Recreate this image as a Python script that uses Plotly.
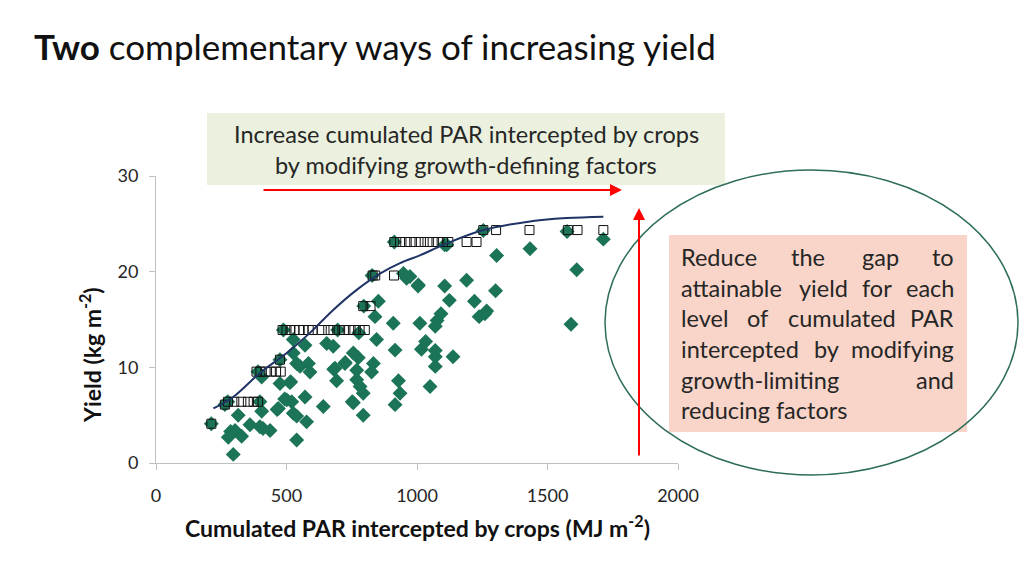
import plotly.graph_objects as go

# ---------------- data ----------------
# observed yields (green diamonds)
obs_x = [212, 296, 277, 303, 328, 315, 360, 398, 437, 405, 398, 469, 475, 513, 501, 520, 526, 539, 571, 577,
         539, 405, 475, 539, 552, 584, 590, 526, 571, 526, 641, 654, 679, 686, 692, 724, 756, 775, 769, 769,
         782, 794, 794, 756, 826, 833, 845, 839, 852, 909, 916, 916, 929, 935, 948, 973, 1005, 1011, 1050, 1017,
         1033, 1070, 1070, 1070, 1070, 1077, 1092, 1106, 1114, 1124, 1138, 1190, 1220, 1238, 1260, 1267, 1305, 1301,
         1433, 1590, 1612, 1714, 1254, 1575, 913, 828, 796, 488, 696, 391, 275, 264, 777, 410, 286, 464, 516, 493,
         725, 681, 752, 960, 1004, 1106]
obs_y = [4.1, 0.9, 2.7, 3.4, 2.8, 5.0, 4.0, 3.8, 3.4, 5.4, 6.4, 5.7, 8.3, 8.4, 6.6, 6.4, 5.2, 4.9, 6.9, 4.3,
         2.4, 9.0, 10.8, 10.4, 10.1, 10.4, 9.5, 11.5, 12.3, 12.9, 5.9, 12.5, 12.2, 9.9, 8.6, 10.4, 11.5, 11.0, 9.7, 8.7,
         8.0, 7.3, 5.0, 6.3, 9.5, 10.4, 12.9, 15.3, 16.9, 14.6, 11.8, 6.1, 8.6, 7.3, 19.8, 19.5, 18.6, 14.6, 8.0, 11.9,
         12.7, 11.1, 11.75, 10.1, 14.3, 14.9, 15.6, 18.5, 22.8, 17.0, 11.1, 19.1, 16.9, 15.3, 15.6, 15.9, 21.7, 18.0,
         22.4, 14.5, 20.2, 23.4, 24.3, 24.2, 23.1, 19.6, 16.4, 13.9, 13.9, 9.55, 6.4, 6.1, 13.6, 3.6, 3.3, 5.6, 8.5, 6.7,
         10.5, 9.8, 6.4, 19.3, 18.5, 22.8]

# attainable yields (open squares)
att_x = [212, 264, 276, 300, 327, 352, 374, 391,
         385, 400, 420, 440, 460, 478, 475,
         485, 500, 515, 530, 548, 565, 585, 600, 635, 660, 680, 700, 720, 740, 760, 780, 800,
         794, 822,
         830, 840, 912,
         913, 935, 955, 975, 995, 1015, 1040, 1060, 1080, 1100, 1120, 1190, 1228,
         1254, 1303, 1431, 1578, 1615, 1714]
att_y = [4.1, 6.1, 6.4, 6.4, 6.4, 6.4, 6.4, 6.4,
         9.55, 9.55, 9.55, 9.55, 9.55, 9.55, 10.8,
         13.9, 13.9, 13.9, 13.9, 13.9, 13.9, 13.9, 13.9, 13.9, 13.9, 13.9, 13.9, 13.9, 13.9, 13.9, 13.9, 13.9,
         16.4, 16.4,
         19.6, 19.6, 19.6,
         23.1, 23.1, 23.1, 23.1, 23.1, 23.1, 23.1, 23.1, 23.1, 23.1, 23.1, 23.1, 23.1,
         24.35, 24.35, 24.35, 24.35, 24.35, 24.35]

# fitted boundary curve
fit_x = [220, 296, 398, 501, 590, 679, 769, 858, 935, 1011, 1101, 1254, 1420, 1573, 1714]
fit_y = [5.7, 6.9, 9.4, 11.5, 13.6, 16.0, 18.1, 19.8, 20.9, 21.7, 22.8, 24.35, 25.2, 25.6, 25.75]

x_ticks = [0, 500, 1000, 1500, 2000]
y_ticks = [0, 10, 20, 30]

# ---------------- layout helpers ----------------
W, H = 1024, 576
L, R, T, B = 156, 678, 176, 463  # plot area in pixels


def px(x):
    return (x - L) / (R - L)


def py(y):
    return (B - y) / (B - T)


FONT = "Lato"
TXT = "#262626"
GREEN = "#1b7457"
BODY = 23.5

fig = go.Figure()
fig.add_trace(go.Scatter(x=obs_x, y=obs_y, mode="markers",
                         marker=dict(symbol="diamond", size=11.5, color=GREEN,
                                     line=dict(width=0)),
                         showlegend=False, hoverinfo="skip"))
fig.add_trace(go.Scatter(x=att_x, y=att_y, mode="markers",
                         marker=dict(symbol="square-open", size=9, color="#111111",
                                     line=dict(width=1)),
                         showlegend=False, hoverinfo="skip"))
fig.add_trace(go.Scatter(x=fit_x, y=fit_y, mode="lines",
                         line=dict(color="#1f3464", width=2, shape="spline", smoothing=1.0),
                         showlegend=False, hoverinfo="skip"))

axis_common = dict(showgrid=False, zeroline=False, showline=True, linecolor="#bfbfbf",
                   linewidth=1, ticks="outside", ticklen=6, tickcolor="#bfbfbf",
                   tickfont=dict(family=FONT, size=18, color=TXT), fixedrange=True)
fig.update_xaxes(range=[0, 2000], tickvals=x_ticks, ticktext=[str(v) for v in x_ticks],
                 ticklabelstandoff=10, **axis_common)
fig.update_yaxes(range=[0, 30], tickvals=y_ticks, ticktext=[str(v) for v in y_ticks],
                 ticklabelstandoff=7, **axis_common)

shapes = [
    # green box
    dict(type="rect", xref="paper", yref="paper", x0=px(207), x1=px(725), y0=py(185), y1=py(113),
         fillcolor="#ebf1de", line=dict(width=0), layer="below"),
    # pink box
    dict(type="rect", xref="paper", yref="paper", x0=px(669), x1=px(967), y0=py(432), y1=py(235),
         fillcolor="#f8d5c8", line=dict(width=0), layer="above"),
    # ellipse
    dict(type="circle", xref="paper", yref="paper", x0=px(605), x1=px(1018), y0=py(475), y1=py(170),
         line=dict(color="#2e6e55", width=1.5), fillcolor="rgba(0,0,0,0)", layer="above"),
]

ann = []
# title
ann.append(dict(text="<b>Two</b> complementary ways of increasing yield", xref="paper", yref="paper",
                x=px(32), y=py(46), xanchor="left", yanchor="middle", showarrow=False,
                font=dict(family=FONT, size=35, color="#111111")))
# green box text
ann.append(dict(text="Increase cumulated PAR intercepted by crops", xref="paper", yref="paper",
                x=px(466), y=py(134), xanchor="center", yanchor="middle", showarrow=False,
                font=dict(family=FONT, size=BODY, color=TXT)))
ann.append(dict(text="by modifying growth-defining factors", xref="paper", yref="paper",
                x=px(466), y=py(165), xanchor="center", yanchor="middle", showarrow=False,
                font=dict(family=FONT, size=BODY, color=TXT)))
# arrows
ann.append(dict(text="", xref="paper", yref="paper", x=px(622), y=py(190), ax=-360, ay=0,
                showarrow=True, arrowhead=2, arrowsize=1.2, arrowwidth=2, arrowcolor="#ff0000"))
ann.append(dict(text="", xref="paper", yref="paper", x=px(639), y=py(208), ax=0, ay=249,
                showarrow=True, arrowhead=2, arrowsize=1.2, arrowwidth=2, arrowcolor="#ff0000"))

# justified text in pink box (word positions)
words = [
    ("Reduce", 679, 257, "left"), ("the", 808, 257, "center"), ("gap", 880, 257, "center"), ("to", 956, 257, "right"),
    ("attainable", 679, 288, "left"), ("yield", 823, 288, "center"), ("for", 877, 288, "center"), ("each", 956, 288, "right"),
    ("level", 679, 318, "left"), ("of", 757, 318, "center"), ("cumulated", 842, 318, "center"), ("PAR", 956, 318, "right"),
    ("intercepted", 679, 349, "left"), ("by", 826, 349, "center"), ("modifying", 956, 349, "right"),
    ("growth-limiting", 679, 380, "left"), ("and", 956, 380, "right"),
    ("reducing factors", 679, 410, "left"),
]
for w, xx, yy, anc in words:
    ann.append(dict(text=w, xref="paper", yref="paper", x=px(xx), y=py(yy), xanchor=anc,
                    yanchor="middle", showarrow=False, font=dict(family=FONT, size=BODY, color=TXT)))

# axis titles
ann.append(dict(text="<b>Cumulated PAR intercepted by crops (MJ m<sup>-2</sup>)</b>", xref="paper", yref="paper",
                x=px(417), y=py(526), xanchor="center", yanchor="middle", showarrow=False,
                font=dict(family=FONT, size=23, color="#111111")))
ann.append(dict(text="<b>Yield (kg m<sup>-2</sup>)</b>", xref="paper", yref="paper",
                x=px(90), y=py(355), xanchor="center", yanchor="middle", showarrow=False,
                textangle=-90, font=dict(family=FONT, size=23, color="#111111")))

fig.update_layout(width=W, height=H, margin=dict(l=L, r=W - R, t=T, b=H - B, pad=0),
                  paper_bgcolor="white", plot_bgcolor="white", shapes=shapes, annotations=ann,
                  showlegend=False)

fig.write_html("out.html", config={"displayModeBar": False},
               post_script="document.body.style.margin='0';document.body.style.overflow='hidden';")
